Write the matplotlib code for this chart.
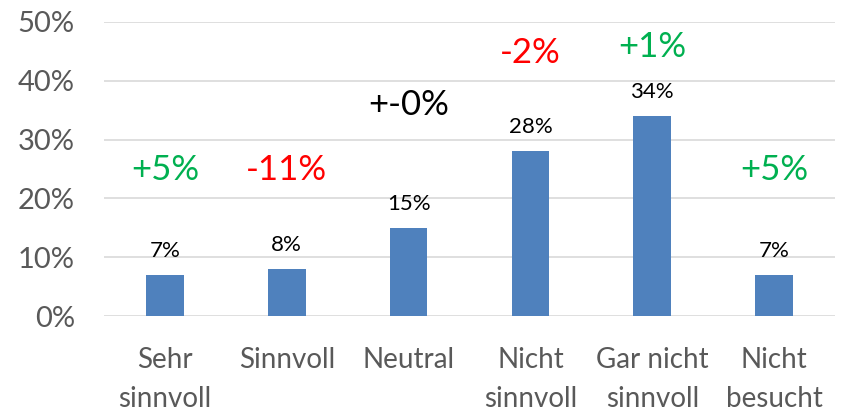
import numpy as np
import matplotlib
matplotlib.use('Agg')
import matplotlib.pyplot as plt

# data
categories = ['Sehr\nsinnvoll', 'Sinnvoll', 'Neutral', 'Nicht\nsinnvoll', 'Gar nicht\nsinnvoll', 'Nicht\nbesucht']
values = [7, 8, 15, 28, 34, 7]
changes = ['+5%', '-11%', '+-0%', '-2%', '+1%', '+5%']
change_colors = ['#00B050', '#FF0000', '#000000', '#FF0000', '#00B050', '#00B050']
change_y = [23.1, 23.1, 34.2, 43.0, 44.0, 23.1]  # baseline height of the change labels

plt.rcParams['font.family'] = ['Lato', 'DejaVu Sans']

fig = plt.figure(figsize=(8.41, 4.11), dpi=100)
ax = fig.add_axes([0.1237, 0.2311, 0.8692, 0.7154])

x = np.arange(len(categories))
bars = ax.bar(x, values, width=0.31, color='#4F81BD', zorder=3)

# value labels above bars
for xi, v in zip(x, values):
    ax.annotate(f'{v}%', (xi, v), xytext=(0, 13), textcoords='offset points',
                ha='center', va='baseline', fontsize=16, color='#000000')

# change labels
for xi, txt, col, yy in zip(x, changes, change_colors, change_y):
    ax.text(xi, yy, txt, ha='center', va='baseline', fontsize=25, color=col)

ax.set_xlim(-0.5, len(categories) - 0.5)
ax.set_ylim(0, 50)
ax.set_yticks(np.arange(0, 51, 10))
ax.set_yticklabels([f'{t}%' for t in range(0, 51, 10)])
ax.set_xticks(x)
ax.set_xticklabels(categories, linespacing=1.65)

ax.tick_params(axis='y', length=0, pad=21, labelsize=21, labelcolor='#595959')
ax.tick_params(axis='x', length=0, pad=22, labelsize=20, labelcolor='#595959')

ax.grid(axis='y', color='#D9D9D9', linewidth=1.2, zorder=0)
for s in ax.spines.values():
    s.set_visible(False)

fig.savefig('out.png', dpi=100)
